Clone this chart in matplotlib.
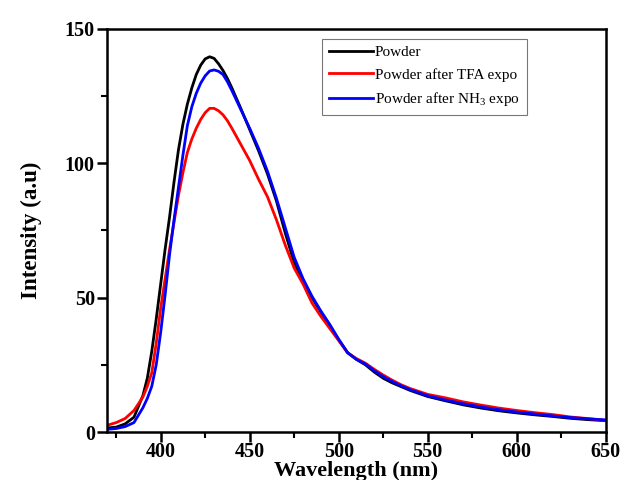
import matplotlib
matplotlib.use("Agg")
import matplotlib.pyplot as plt
from matplotlib.ticker import MultipleLocator

plt.rcParams['font.family'] = ['Liberation Serif', 'DejaVu Serif']
plt.rcParams['mathtext.fontset'] = 'custom'
plt.rcParams['mathtext.rm'] = 'Liberation Serif'

# wavelength (nm)
wavelength = [370, 375, 380, 385, 390, 392.5, 395, 397.5, 400, 402.5, 405, 407.5,
              410, 412.5, 415, 417.5, 420, 422.5, 425, 427.5, 430, 432.5, 435, 437.5,
              440, 445, 450, 455, 460, 465, 470, 475, 480, 485, 490, 495, 500,
              505, 510, 515, 520, 525, 530, 535, 540, 550, 560, 570, 580, 590, 600,
              610, 620, 630, 640, 650]

powder = [1.5, 1.8, 3.0, 5.5, 13.5, 20, 30, 42, 55, 68, 80, 93,
          105, 114.5, 122, 128, 133, 136.5, 138.8, 139.6, 139, 137, 134.5, 131.5,
          128, 120.4, 112.5, 104.6, 96, 86, 74, 63, 56, 50, 44.6, 39.5, 34.3,
          29.5, 27, 25, 22.3, 20, 18.3, 16.9, 15.5, 13.2, 11.6, 10.1, 8.9, 7.9, 7.1,
          6.4, 5.8, 5.1, 4.6, 4.2]

powder_tfa = [2.5, 3.5, 5.0, 8.0, 13, 17, 22, 33, 46, 57, 68, 78,
              88, 96.5, 104, 109, 113, 116.3, 118.8, 120.4, 120.4, 119.5, 118, 115.8,
              113, 107, 101, 94, 87.5, 79, 69.5, 61, 55, 48, 43, 38.5, 34,
              29.5, 27.3, 25.6, 23.3, 21.2, 19.3, 17.6, 16.2, 14, 12.7, 11.2, 10, 8.9, 8,
              7.2, 6.5, 5.6, 5, 4.3]

powder_nh3 = [1.0, 1.3, 2.0, 3.5, 9, 12.5, 17, 25, 37, 51, 66, 79,
              91, 103, 114, 121, 126, 129.8, 132.5, 134.3, 134.7, 134.2, 133, 130.3,
              127, 120, 113, 105.5, 97, 87, 76, 65, 57, 50.5, 45, 40, 34.5,
              29.5, 27, 25.3, 22.8, 20.6, 18.8, 17.2, 15.8, 13.5, 11.9, 10.5, 9.3, 8.3, 7.4,
              6.7, 6.0, 5.4, 4.9, 4.5]

labels = ['Powder', 'Powder after TFA expo', 'Powder after NH$_3$ expo']
colors = ['black', 'red', 'blue']

fig = plt.figure(figsize=(6.2, 4.8), dpi=100)
ax = fig.add_axes([0.173, 0.100, 0.804, 0.840])

for y, lab, c in zip([powder, powder_tfa, powder_nh3], labels, colors):
    ax.plot(wavelength, y, color=c, lw=2, label=lab, solid_joinstyle='round')

ax.set_xlim(370, 650)
ax.set_ylim(0, 150)
ax.xaxis.set_major_locator(MultipleLocator(50))
ax.xaxis.set_minor_locator(MultipleLocator(25))
ax.yaxis.set_major_locator(MultipleLocator(50))
ax.yaxis.set_minor_locator(MultipleLocator(25))
ax.tick_params(which='major', direction='out', length=7, width=1.8, labelsize=14.5, pad=2)
ax.tick_params(axis='x', which='major', pad=0)
ax.tick_params(which='minor', direction='out', length=4, width=1.5)
for lab in ax.get_xticklabels() + ax.get_yticklabels():
    lab.set_fontweight('bold')
for s in ax.spines.values():
    s.set_linewidth(1.8)

ax.set_xlabel('Wavelength (nm)', fontsize=16, fontweight='bold')
ax.xaxis.set_label_coords(0.5, -0.072)
ax.set_ylabel('Intensity (a.u)', fontsize=16.5, fontweight='bold')
ax.yaxis.set_label_coords(-0.13, 0.5)

leg = ax.legend(loc='upper left', bbox_to_anchor=(0.431, 0.975), borderaxespad=0,
                fontsize=11, handlelength=2.9, handletextpad=0.1, borderpad=0.45,
                labelspacing=0.55, fancybox=False, framealpha=1)
leg.get_frame().set_edgecolor('#777777')
leg.get_frame().set_linewidth(0.8)

fig.savefig('out.png', dpi=100)
